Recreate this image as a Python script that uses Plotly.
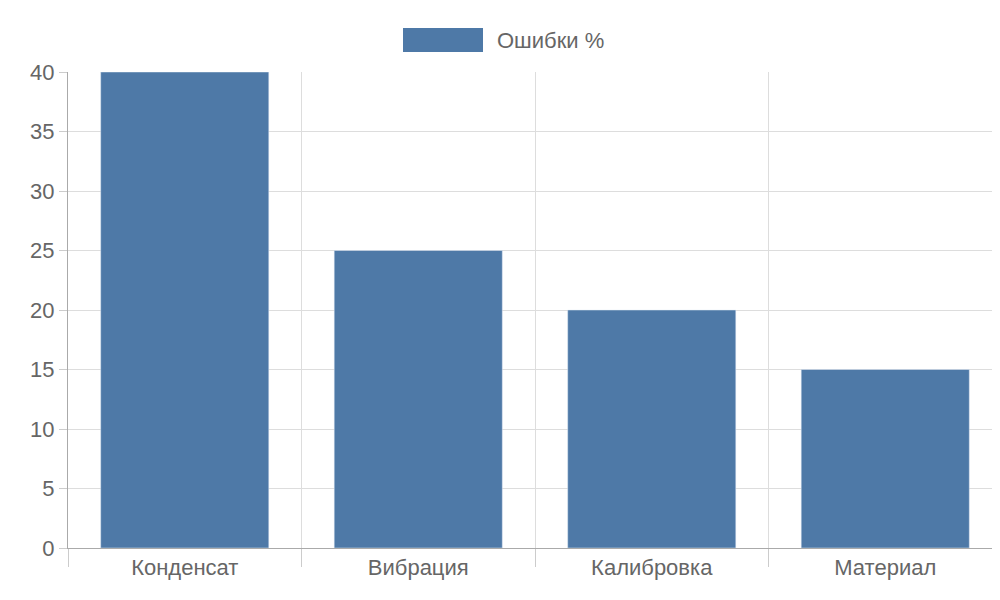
import plotly.graph_objects as go

categories = ["Конденсат", "Вибрация", "Калибровка", "Материал"]
values = [40, 25, 20, 15]
series_name = "Ошибки %"
color = "#4e79a7"

fig = go.Figure(go.Bar(x=categories, y=values, marker_color=color, width=0.72, name=series_name, showlegend=False))

W, H = 1000, 600
L, R, T, B = 60, 6, 64, 60
pw, ph = W - L - R, H - T - B
def px(x): return (x - L) / pw
def py(y): return (H - B - y) / ph

fig.add_shape(type="rect", xref="paper", yref="paper", x0=px(395), x1=px(475), y0=py(44), y1=py(20),
              fillcolor=color, line=dict(width=0))
fig.add_annotation(xref="paper", yref="paper", x=px(487), y=py(32), text=series_name, showarrow=False,
                   xanchor="left", yanchor="middle", font=dict(size=22, color="#666"))

fig.update_layout(
    width=W, height=H, margin=dict(l=L, r=R, t=T, b=B),
    plot_bgcolor="white", paper_bgcolor="white",
    font=dict(family="Liberation Sans, Arial", size=20, color="#666"),
    xaxis=dict(type="category", range=[-0.5, 3.5], tickson="boundaries", showgrid=True, gridcolor="#ddd",
               ticks="outside", ticklen=18, tickcolor="#ccc", showline=True, linecolor="#aaa",
               tickfont=dict(size=22, color="#666")),
    yaxis=dict(range=[0, 40], dtick=5, showgrid=True, gridcolor="#ddd", ticks="outside", ticklen=8,
               tickcolor="#ccc", showline=True, linecolor="#aaa", zeroline=False,
               tickfont=dict(size=22, color="#666")),
)
fig.write_html("out.html")
